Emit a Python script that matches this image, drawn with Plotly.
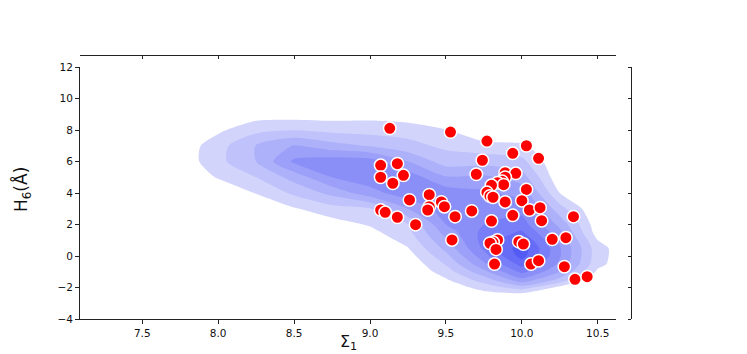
import plotly.graph_objects as go

# scatter points (Sigma_1, H_6)
sigma1 = [9.13, 9.53, 9.77, 10.03, 9.94, 10.11, 9.74, 9.07, 9.18, 9.70,
          9.89, 9.96, 9.89, 9.87, 9.84, 9.88, 9.07, 9.22, 9.15, 10.03,
          9.80, 9.77, 9.79, 9.81, 9.39, 9.26, 9.47, 9.49, 9.39, 9.38,
          9.89, 10.00, 9.07, 9.10, 9.67, 10.05, 10.12, 9.18, 9.56, 9.94,
          10.34, 9.30, 9.80, 10.13, 9.54, 9.84, 9.81, 9.79, 9.98, 10.01,
          9.83, 10.20, 10.29, 9.82, 10.06, 10.11, 10.28, 10.35, 10.43]
h6 = [8.11, 7.87, 7.30, 7.00, 6.52, 6.20, 6.08, 5.76, 5.86, 5.19,
      5.29, 5.25, 5.00, 4.74, 4.65, 4.53, 5.00, 5.12, 4.62, 4.23,
      4.49, 4.04, 3.81, 3.73, 3.89, 3.56, 3.43, 3.13, 3.13, 2.92,
      3.43, 3.51, 2.92, 2.77, 2.86, 2.92, 3.07, 2.46, 2.50, 2.58,
      2.50, 1.99, 2.22, 2.24, 1.02, 1.02, 0.87, 0.81, 0.91, 0.76,
      0.42, 1.06, 1.16, -0.51, -0.51, -0.30, -0.68, -1.48, -1.31]

# density levels (rows = y, cols = x)
grid_x = [7.5, 7.75, 8.0, 8.25, 8.5, 8.75, 9.0, 9.25, 9.5, 9.75, 10.0, 10.25, 10.5, 10.75]
grid_y = [-3, -2.5, -2, -1.5, -1, -0.5, 0, 0.5, 1, 1.5, 2, 3, 4, 5, 6, 7, 8, 9, 10]
density = [
    [0, 0, 0, 0, 0, 0, 0, 0, 0, 0, 0, 0, 0, 0],
    [0, 0, 0, 0, 0, 0, 0, 0, 0, 0.5, 0.4, 0, 0, 0],
    [0, 0, 0, 0, 0, 0, 0, 0, 0.3, 1.4, 2.5, 0.7, 0, 0],
    [0, 0, 0, 0, 0, 0, 0, 0, 0.9, 2.5, 4.7, 2.7, 0, 0],
    [0, 0, 0, 0, 0, 0, 0, 0, 1.5, 3.7, 6.3, 4.0, 0.8, 0],
    [0, 0, 0, 0, 0, 0, 0, 0.2, 2.1, 4.8, 7.4, 4.8, 1.3, 0],
    [0, 0, 0, 0, 0, 0, 0, 0.55, 2.7, 5.6, 8.4, 5.1, 1.4, 0],
    [0, 0, 0, 0, 0, 0, 0.1, 0.95, 3.3, 6.2, 8.6, 5.1, 1.4, 0],
    [0, 0, 0, 0, 0, 0, 0.3, 1.35, 3.85, 6.4, 7.9, 4.8, 1.0, 0],
    [0, 0, 0, 0, 0, 0.2, 0.7, 1.7, 4.4, 6.3, 7.15, 4.3, 0.5, 0],
    [0, 0, 0, 0, 0, 0.55, 1.1, 2.0, 5.0, 6.0, 6.5, 3.7, 0.35, 0],
    [0, 0, 0, 0, 0.9, 1.6, 1.95, 4.0, 5.6, 5.5, 5.6, 2.4, 0, 0],
    [0, 0, 0, 1.05, 2.2, 3.3, 4.6, 5.6, 5.6, 5.2, 4.6, 1.0, 0, 0],
    [0, 0, 1.1, 2.0, 3.4, 5.0, 5.6, 5.6, 4.1, 4.2, 3.5, 0.2, 0, 0],
    [0, 0.3, 1.7, 3.0, 5.2, 5.6, 5.5, 4.0, 2.5, 2.6, 2.3, 0, 0, 0],
    [0, 0.3, 1.6, 3.05, 4.1, 3.4, 2.9, 2.3, 1.8, 1.4, 1.2, 0, 0, 0],
    [0, 0, 0.8, 1.7, 1.95, 1.7, 1.6, 1.6, 1.05, 0, 0, 0, 0, 0],
    [0, 0, 0, 0.5, 0.5, 0.5, 0.6, 0.3, 0, 0, 0, 0, 0, 0],
    [0, 0, 0, 0, 0, 0, 0, 0, 0, 0, 0, 0, 0, 0],
]

x_ticks = [7.5, 8.0, 8.5, 9.0, 9.5, 10.0, 10.5]
y_ticks = [-4, -2, 0, 2, 4, 6, 8, 10, 12]

BLUES = ["#ffffff", "#d2d4fc", "#bfc2fb", "#adb1fa", "#9ca0f9",
         "#8a8ff8", "#787ef7", "#666cf6", "#535bf5"]
scale = [[i / (len(BLUES) - 1), c] for i, c in enumerate(BLUES)]

fig = go.Figure()
fig.add_trace(go.Contour(
    x=grid_x, y=grid_y, z=density,
    contours=dict(start=1, end=8, size=1, coloring="fill"),
    colorscale=scale, showscale=False,
    line=dict(width=0, smoothing=0.7), hoverinfo="skip",
))
fig.add_trace(go.Scatter(
    x=sigma1, y=h6, mode="markers",
    marker=dict(color="#ff0000", size=12.5, line=dict(color="white", width=1.5)),
    showlegend=False,
))
# empty marginal panels (top and right)
fig.add_trace(go.Scatter(x=[], y=[], xaxis="x2", yaxis="y2", showlegend=False))
fig.add_trace(go.Scatter(x=[], y=[], xaxis="x3", yaxis="y3", showlegend=False))

tick_font = dict(family="DejaVu Sans", size=10.5, color="#111")
line_style = dict(showgrid=False, zeroline=False, showline=True, linecolor="#222",
                  linewidth=1, ticks="outside", tickcolor="#222", automargin=False)

# the page body adds an 8px offset, so pixel targets below are page - 8
L, R, T, B = 72, 40, 12, 43
W = 747 - L - R
H = 354 - T - B
main_x = [0, 536 / W]
main_y = [0, 252 / H]

fig.update_layout(
    width=747, height=354,
    margin=dict(l=L, r=R, t=T, b=B),
    plot_bgcolor="white", paper_bgcolor="white",
    showlegend=False,
    xaxis=dict(domain=main_x, range=[7.09, 10.62], tickvals=x_ticks,
               ticktext=[f"{v:.1f}" for v in x_ticks], ticklen=4,
               tickfont=tick_font, anchor="y", **line_style),
    yaxis=dict(domain=main_y, range=[-4, 12], tickvals=y_ticks, ticklen=4,
               tickfont=tick_font, anchor="x", **line_style),
    xaxis2=dict(domain=main_x, range=[7.09, 10.62], tickvals=x_ticks, ticklen=3,
                showticklabels=False, anchor="y2", side="bottom", **line_style),
    yaxis2=dict(domain=[264 / H, 1], visible=False, anchor="x2"),
    xaxis3=dict(domain=[552 / W, 1], visible=False, anchor="y3"),
    yaxis3=dict(domain=main_y, range=[-4, 12], tickvals=y_ticks, ticklen=3,
                showticklabels=False, anchor="x3", side="left", **line_style),
    annotations=[
        dict(text="Σ<sub>1</sub>", xref="paper", x=main_x[1] / 2, yref="paper",
             y=(354 - B - 334) / H, xanchor="center", yanchor="middle",
             showarrow=False, font=dict(family="DejaVu Sans", size=16, color="#111")),
        dict(text="H<sub>6</sub>(Å)", xref="paper", x=(14 - L) / W, yref="paper",
             y=(354 - B - 182) / H, xanchor="center", yanchor="middle",
             textangle=-90, showarrow=False,
             font=dict(family="DejaVu Sans", size=17, color="#111")),
    ],
)

fig.write_html("out.html")
